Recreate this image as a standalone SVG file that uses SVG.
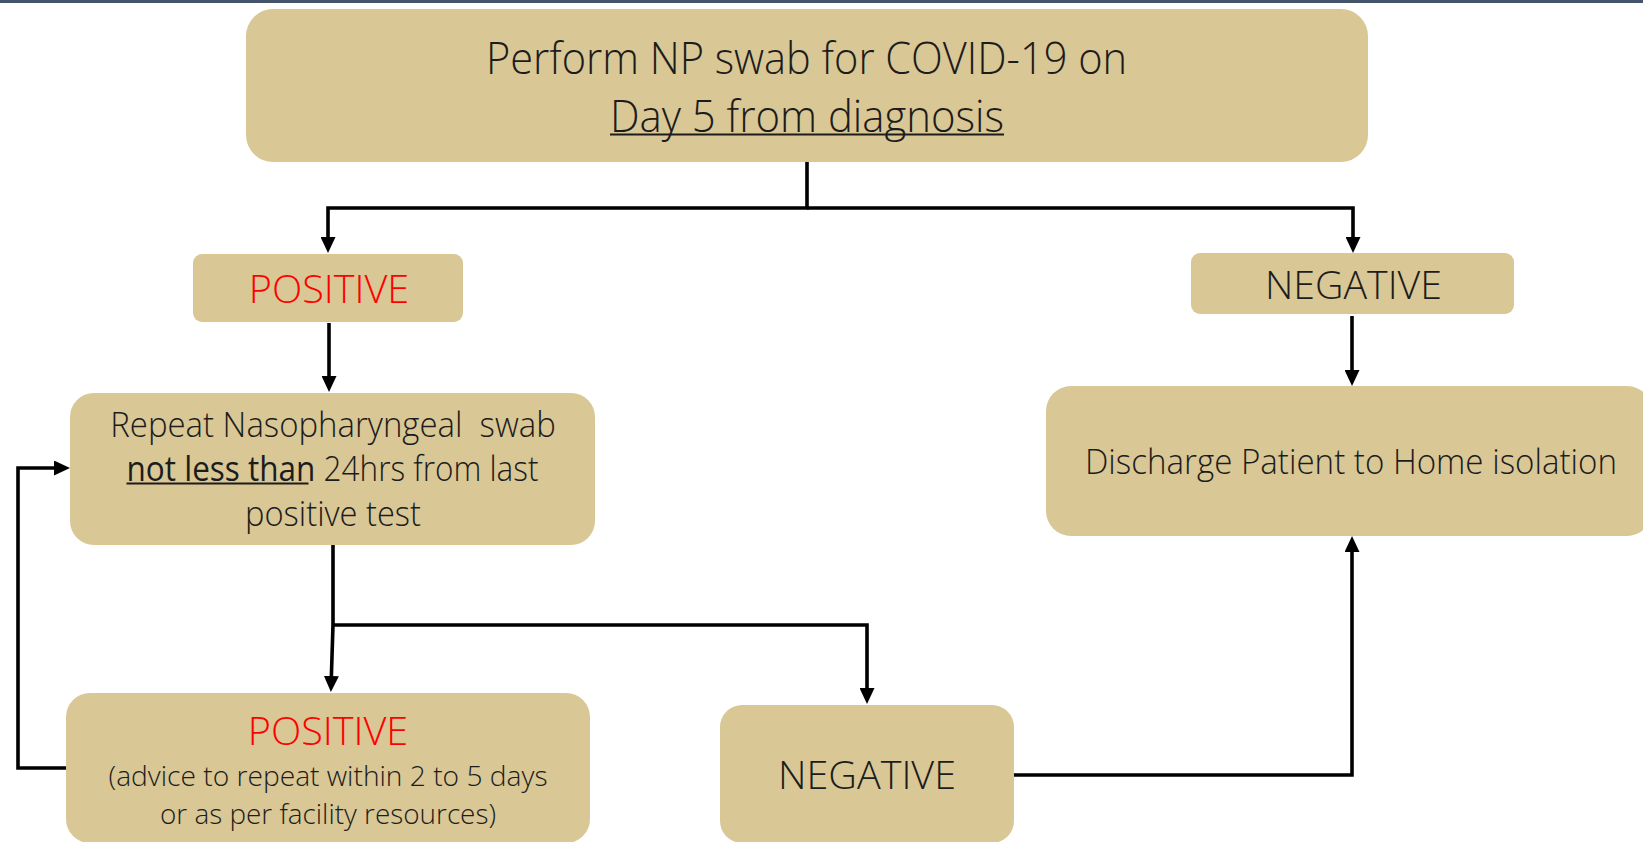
<svg xmlns="http://www.w3.org/2000/svg" width="1643" height="842" viewBox="0 0 1643 842">
<defs>
<style>
.box{fill:#D9C795;}
.t{font-family:"Open Sans","Liberation Sans",sans-serif;font-weight:300;fill:#1c1c1c;text-anchor:middle;white-space:pre;}
.red{fill:#FF0000;}
.con{fill:none;stroke:#000;stroke-width:3.6;}
.ul{stroke:#1c1c1c;stroke-width:1.8;}
</style>
<marker id="arr" viewBox="0 0 16 15" refX="6" refY="7.5" markerWidth="16" markerHeight="15" markerUnits="userSpaceOnUse" orient="auto">
<path d="M0,0 L16,7.5 L0,15 z" fill="#000"/>
</marker>
</defs>
<rect x="0" y="0" width="1643" height="842" fill="#fff"/>
<rect x="0" y="0" width="1643" height="3" fill="#44546A"/>

<g id="connectors">
<path class="con" d="M807,162 V208 H328 V243" marker-end="url(#arr)"/>
<path class="con" d="M807,208 H1353 V243" marker-end="url(#arr)"/>
<path class="con" d="M1352,316 V376" marker-end="url(#arr)"/>
<path class="con" d="M329,323 V382" marker-end="url(#arr)"/>
<path class="con" d="M333,545 V625 L331.2,682" marker-end="url(#arr)"/>
<path class="con" d="M333,625 H867 V694" marker-end="url(#arr)"/>
<path class="con" d="M67,768 H18 V468 H60" marker-end="url(#arr)"/>
<path class="con" d="M1014,775 H1352 V546" marker-end="url(#arr)"/>
</g>

<g id="start">
<rect class="box" x="246" y="9" width="1122" height="153" rx="27"/>
<text class="t" x="806.5" y="73.5" font-size="45" textLength="641" lengthAdjust="spacingAndGlyphs">Perform NP swab for COVID-19 on</text>
<text class="t" x="807" y="131.5" font-size="45" textLength="394" lengthAdjust="spacingAndGlyphs">Day 5 from diagnosis</text>
<line class="ul" x1="610" y1="134.5" x2="1004" y2="134.5"/>
</g>

<g id="positive1">
<rect class="box" x="193" y="254" width="270" height="68" rx="9"/>
<text class="t red" x="329" y="303" font-size="39" textLength="160.5" lengthAdjust="spacingAndGlyphs">POSITIVE</text>
</g>

<g id="negative1">
<rect class="box" x="1191" y="253" width="323" height="61" rx="9"/>
<text class="t" x="1353.5" y="299" font-size="39" textLength="177" lengthAdjust="spacingAndGlyphs">NEGATIVE</text>
</g>

<g id="repeat">
<rect class="box" x="70" y="393" width="525" height="152" rx="24"/>
<text class="t" x="333" y="437" font-size="34" textLength="445.5" lengthAdjust="spacingAndGlyphs">Repeat Nasopharyngeal  swab</text>
<text class="t" x="332.5" y="481" font-size="34" textLength="412" lengthAdjust="spacingAndGlyphs"><tspan font-weight="400">not less than</tspan> 24hrs from last</text>
<line class="ul" x1="126.5" y1="483.5" x2="308.5" y2="483.5"/>
<text class="t" x="333" y="525.5" font-size="34" textLength="176" lengthAdjust="spacingAndGlyphs">positive test</text>
</g>

<g id="discharge">
<rect class="box" x="1046" y="386" width="606" height="150" rx="25"/>
<text class="t" x="1351" y="474" font-size="34" textLength="532" lengthAdjust="spacingAndGlyphs">Discharge Patient to Home isolation</text>
</g>

<g id="positive2">
<rect class="box" x="66" y="693" width="524" height="150" rx="24"/>
<text class="t red" x="328" y="745" font-size="39" textLength="160.5" lengthAdjust="spacingAndGlyphs">POSITIVE</text>
<text class="t" x="328" y="786" font-size="27" textLength="439" lengthAdjust="spacingAndGlyphs">(advice to repeat within 2 to 5 days</text>
<text class="t" x="328" y="823.5" font-size="27" textLength="336" lengthAdjust="spacingAndGlyphs">or as per facility resources)</text>
</g>

<g id="negative2">
<rect class="box" x="720" y="705" width="294" height="138" rx="22"/>
<text class="t" x="867" y="789" font-size="39" textLength="178" lengthAdjust="spacingAndGlyphs">NEGATIVE</text>
</g>
</svg>
